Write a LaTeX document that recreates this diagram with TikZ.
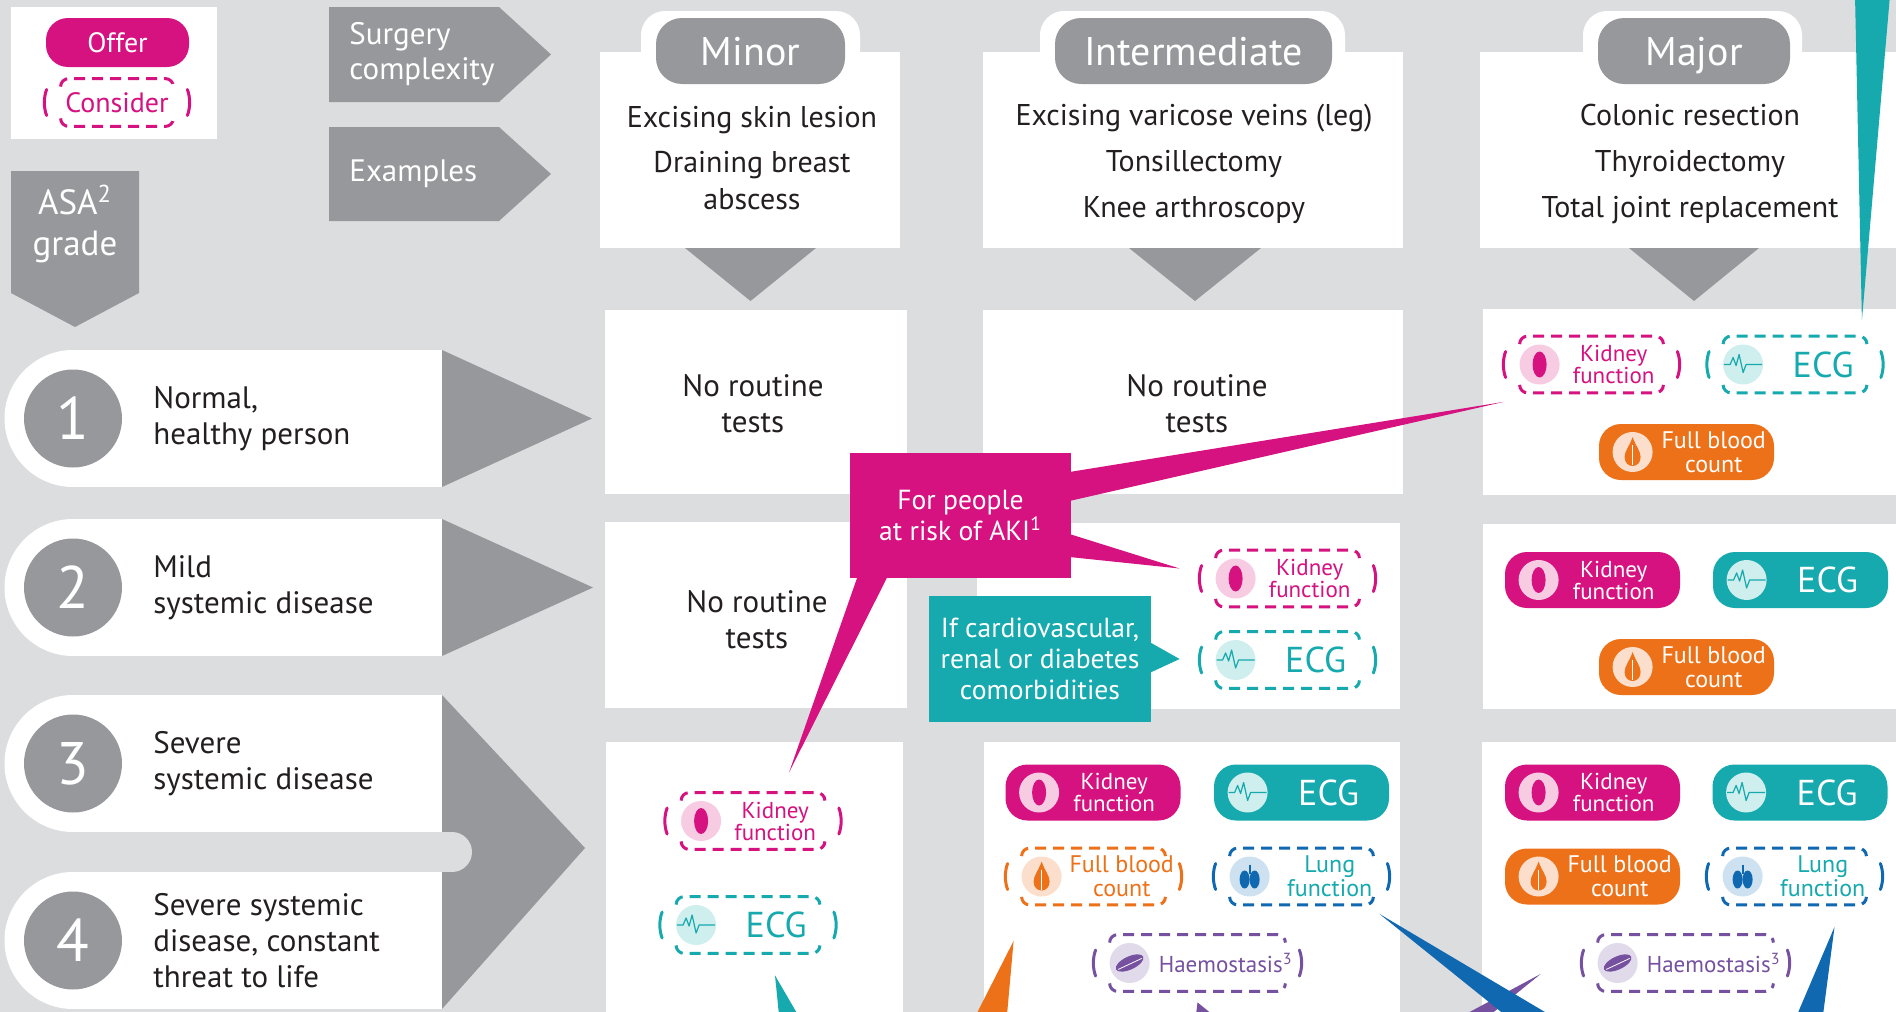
\documentclass[tikz,border=0pt]{standalone}
\usepackage{fontspec}
\setmainfont{PT Sans}
\usetikzlibrary{calc}

\definecolor{bggray}{HTML}{DCDDDF}
\definecolor{dgray}{HTML}{97989C}
\definecolor{ink}{HTML}{231F20}
\definecolor{cmag}{HTML}{D5127F}
\definecolor{cmagl}{HTML}{F7CCE3}
\definecolor{cteal}{HTML}{16A9AD}
\definecolor{ctealb}{HTML}{CFEEEE}
\definecolor{corange}{HTML}{EC7118}
\definecolor{corangel}{HTML}{FBDECB}
\definecolor{cblue}{HTML}{1068B1}
\definecolor{cbluel}{HTML}{CDE1F1}
\definecolor{cpurple}{HTML}{7551A0}
\definecolor{cpurplel}{HTML}{E1DAEB}

\newcommand\fsz[2]{\fontsize{#1}{#2}\selectfont}

\tikzset{
  offer/.style={fill=#1, rounded corners=11pt, minimum width=87.5pt, minimum height=28pt, inner sep=0pt},
  consider/.style={minimum width=87.5pt, minimum height=28pt, inner sep=0pt},
  icon/.style={circle, fill=#1, minimum size=20pt, inner sep=0pt},
  pilltxt/.style={align=center, font=\fsz{11.5}{11}},
  big/.style={pilltxt/.append style={font=\fsz{18}{18}}},
  blood/.style={pilltxt/.append style={font=\fsz{12}{12}}},
  kid/.style={pilltxt/.append style={xshift=-3pt}},
  wide/.style={consider/.append style={minimum width=103.5pt}},
  dashframe/.style={line width=1.5pt, dash pattern=on 5.5pt off 3.5pt, rounded corners=4pt},
  brk/.style={line width=1.5pt, line cap=round},
  head/.style={fill=dgray, rounded corners=13pt, minimum height=33pt, text=white, font=\fsz{20}{22}, text height=14pt, text depth=0pt},
  ex/.style={align=center, text=ink, font=\fsz{15}{18.5}},
  num/.style={circle, fill=dgray, minimum size=49pt, inner sep=0pt, text=white, font=\fsz{30}{30}},
  grade/.style={anchor=west, align=left, inner sep=0pt, text=ink, font=\fsz{15.5}{18}},
  notest/.style={align=center, text=ink, font=\fsz{15.5}{18}},
  bubble/.style={fill=#1, text=white, align=center, font=\fsz{13.8}{15.5}, inner sep=0pt},
}

% icons, drawn round the origin of a scope
\newcommand\kidneyicon[1]{\fill[#1] (0,0) ellipse (7 and 13);}
\newcommand\ecgicon[1]{\draw[#1, line width=0.6pt, line join=round] (-19,0) -- (-13,0) -- (-10,-7) -- (-7,1) -- (-4,-10) -- (0,8) -- (3,0) -- (19,0);}
\newcommand\dropicon[1]{\fill[#1] (0,-15) .. controls (3,-6) and (8,-1) .. (8,5) .. controls (8,11) and (4,14) .. (0,14) .. controls (-4,14) and (-8,11) .. (-8,5) .. controls (-8,-1) and (-3,-6) .. (0,-15) -- cycle;
  \draw[white, line width=0.4pt] (0,-7) -- (0,13);}
\newcommand\lungicon[1]{\fill[#1] (-5,3) ellipse (5 and 9); \fill[#1] (5,3) ellipse (5 and 9);
  \draw[#1, line width=1pt] (0,-12) -- (0,-3);}
\newcommand\pillicon[1]{\fill[#1, rotate=25] (0,0) ellipse (15 and 6.5);
  \draw[white, line width=0.4pt, rotate=25] (-13,1) -- (13,1);}

% dashed frame with brackets
\newcommand\considerframe[2]{%
  \draw[dashframe, #2] ([shift={(16,8)}]#1.north west) -- ([shift={(16,0)}]#1.north west) -- ([shift={(-16,0)}]#1.north east) -- ([shift={(-16,8)}]#1.north east);
  \draw[dashframe, #2] ([shift={(16,-8)}]#1.south west) -- ([shift={(16,0)}]#1.south west) -- ([shift={(-16,0)}]#1.south east) -- ([shift={(-16,-8)}]#1.south east);
  \draw[brk, #2] ([shift={(2,-13)}]#1.west) .. controls ([shift={(-1,-5)}]#1.west) and ([shift={(-1,5)}]#1.west) .. ([shift={(2,13)}]#1.west);
  \draw[brk, #2] ([shift={(-2,-13)}]#1.east) .. controls ([shift={(1,-5)}]#1.east) and ([shift={(1,5)}]#1.east) .. ([shift={(-2,13)}]#1.east);
}

% [options]{name}{at}{colour}{light colour}{icon}{text}
\newcommand\offerpill[7][]{%
  \begin{scope}[#1]
  \node[offer=#4] (#2) at (#3) {};
  \node[icon=#5] (#2-i) at ([xshift=17pt]#2.west) {};
  \begin{scope}[shift={(#2-i.center)}]#6{#4}\end{scope}
  \node[pilltxt, text=white] (#2-t) at ($(#2-i.east)!0.5!(#2.east)$) {#7};
  \end{scope}
}
% [options]{name}{at}{colour}{light colour}{icon}{text colour}{text}
\newcommand\considerpill[8][]{%
  \begin{scope}[#1]
  \node[consider] (#2) at (#3) {};
  \node[icon=#5] (#2-i) at ([xshift=18pt]#2.west) {};
  \begin{scope}[shift={(#2-i.center)}]#6{#4}\end{scope}
  \node[pilltxt, text=#7] (#2-t) at ($(#2-i.east)!0.5!(#2.east)$) {#8};
  \considerframe{#2}{#4}
  \end{scope}
}

\begin{document}
\begin{tikzpicture}[x=0.5pt,y=-0.5pt,font=\fsz{11.5}{11}]
\useasboundingbox (0,0) rectangle (1896,1012);
\clip (0,0) rectangle (1896,1012);
\fill[bggray] (0,0) rectangle (1896,1012);

% key
\fill[white] (11,7) rectangle (217,139);
\node[offer=cmag, minimum width=71.5pt, minimum height=24.5pt, text=white, font=\fsz{14}{14}] (offer) at (117.5,42.5) {Offer};
\node[consider, minimum width=72pt, minimum height=23.5pt, text=cmag, font=\fsz{14}{14}] (consider) at (117,102.5) {Consider};
\considerframe{consider}{cmag}

% row and column titles
\fill[dgray] (329,7) -- (499,7) -- (551,54.5) -- (499,102) -- (329,102) -- cycle;
\node[anchor=west, align=left, inner sep=0pt, text=white, font=\fsz{15.5}{17.5}] (surgery) at (349,54.5) {Surgery\\complexity};
\fill[dgray] (329,127) -- (499,127) -- (551,174) -- (499,221) -- (329,221) -- cycle;
\node[anchor=west, inner sep=0pt, text=white, font=\fsz{15.5}{17.5}] (examples) at (349,174) {Examples};
\fill[dgray] (11,171) -- (139,171) -- (139,293) -- (75,327) -- (11,293) -- cycle;
\node[align=center, text=white, font=\fsz{17.5}{20.5}] (asa) at (75,224) {ASA\textsuperscript{2}\\grade};

% surgery columns
\fill[white] (600,52) rectangle (900,248);
\fill[white, rounded corners=12pt] (641,11) rectangle (860,110);
\node[head, minimum width=94.5pt] (minor) at (750.5,51) {Minor};
\node[ex] (minorex) at (752,158) {Excising skin lesion\\[4pt]Draining breast\\abscess};
\fill[dgray] (685,248) -- (816,248) -- (750.5,301) -- cycle;

\fill[white] (983,52) rectangle (1403,248);
\fill[white, rounded corners=12pt] (1040,11) rectangle (1345,110);
\node[head, minimum width=138.5pt] (inter) at (1193.5,51) {Intermediate};
\node[ex] (interex) at (1194,163.5) {Excising varicose veins (leg)\\[4.5pt]Tonsillectomy\\[4.5pt]Knee arthroscopy};
\fill[dgray] (1129,248) -- (1261,248) -- (1195,301) -- cycle;

\fill[white] (1480,52) rectangle (1900,248);
\fill[white, rounded corners=12pt] (1583,11) rectangle (1802,110);
\node[head, minimum width=96pt] (major) at (1694,51) {Major};
\node[ex] (majorex) at (1690,163.5) {Colonic resection\\[4.5pt]Thyroidectomy\\[4.5pt]Total joint replacement};
\fill[dgray] (1629,248) -- (1759,248) -- (1694,301) -- cycle;

% ASA grades
\fill[white] (73,418.5) circle (68.5); \fill[white] (73,350) rectangle (442,487);
\fill[dgray] (442,350) -- (592,418.5) -- (442,487) -- cycle;
\node[num] (g1) at (73,418.5) {1};
\node[grade] (asa1) at (153,418.5) {Normal,\\healthy person};

\fill[white] (73,587.5) circle (68.5); \fill[white] (73,519) rectangle (442,656);
\fill[dgray] (442,519) -- (593,587.5) -- (442,656) -- cycle;
\node[num] (g2) at (73,587.5) {2};
\node[grade] (asa2) at (153,587.5) {Mild\\systemic disease};

\fill[white] (73,763.5) circle (68.5); \fill[white] (73,695) rectangle (442,832);
\fill[white] (73,940.5) circle (68.5); \fill[white] (73,872) rectangle (442,1009);
\fill[dgray] (442,695) -- (585,848) -- (442,1009) -- cycle;
\fill[bggray] (430,832) rectangle (452,872); \fill[bggray] (452,852) circle (20);
\node[num] (g3) at (73,763.5) {3};
\node[grade] (asa3) at (153,763.5) {Severe\\systemic disease};
\node[num] (g4) at (73,940.5) {4};
\node[grade] (asa4) at (153,940.5) {Severe systemic\\disease, constant\\threat to life};

% cells
\fill[white] (605,310) rectangle (907,494);
\fill[white] (983,310) rectangle (1403,494);
\fill[white] (1483,309) rectangle (1900,495);
\fill[white] (605,522) rectangle (907,708);
\fill[white] (977,523) rectangle (1400,709);
\fill[white] (1483,524) rectangle (1900,709);
\fill[white] (606,742) rectangle (903,1020);
\fill[white] (984,742) rectangle (1400,1020);
\fill[white] (1482,742) rectangle (1900,1020);

\node[notest] (none1) at (753,404) {No routine\\tests};
\node[notest] (none2) at (1197,404) {No routine\\tests};
\node[notest] (none3) at (757,620) {No routine\\tests};

% tests
\considerpill[kid]{kmaj1}{1591.5,364.5}{cmag}{cmagl}{\kidneyicon}{cmag}{Kidney\\function}
\considerpill[big]{emaj1}{1795,364.5}{cteal}{ctealb}{\ecgicon}{cteal}{ECG}
\offerpill[blood]{fmaj1}{1686.5,452}{corange}{corangel}{\dropicon}{Full blood\\count}

\considerpill[kid]{kint2}{1287.5,578.5}{cmag}{cmagl}{\kidneyicon}{cmag}{Kidney\\function}
\considerpill[big]{eint2}{1287.5,660}{cteal}{ctealb}{\ecgicon}{cteal}{ECG}
\offerpill[kid]{kmaj2}{1592.5,580}{cmag}{cmagl}{\kidneyicon}{Kidney\\function}
\offerpill[big]{emaj2}{1800.5,580}{cteal}{ctealb}{\ecgicon}{ECG}
\offerpill[blood]{fmaj2}{1686.5,667}{corange}{corangel}{\dropicon}{Full blood\\count}

\considerpill[kid]{kmin3}{753,821}{cmag}{cmagl}{\kidneyicon}{cmag}{Kidney\\function}
\considerpill[big]{emin3}{748,925}{cteal}{ctealb}{\ecgicon}{cteal}{ECG}

\offerpill[kid]{kint3}{1093,792.5}{cmag}{cmagl}{\kidneyicon}{Kidney\\function}
\offerpill[big]{eint3}{1301.5,792.5}{cteal}{ctealb}{\ecgicon}{ECG}
\considerpill[blood]{fint3}{1093.5,876.5}{corange}{corangel}{\dropicon}{corange}{Full blood\\count}
\considerpill[blood]{lint3}{1301.5,876.5}{cblue}{cbluel}{\lungicon}{cteal}{Lung\\function}
\considerpill[wide]{hint3}{1197.5,963}{cpurple}{cpurplel}{\pillicon}{cpurple}{Haemostasis\textsuperscript{3}}

\offerpill[kid]{kmaj3}{1592.5,792.5}{cmag}{cmagl}{\kidneyicon}{Kidney\\function}
\offerpill[big]{emaj3}{1800,792.5}{cteal}{ctealb}{\ecgicon}{ECG}
\offerpill[blood]{fmaj3}{1592.5,876.5}{corange}{corangel}{\dropicon}{Full blood\\count}
\considerpill[blood]{lmaj3}{1794.5,876.5}{cblue}{cbluel}{\lungicon}{cteal}{Lung\\function}
\considerpill[wide]{hmaj3}{1685.5,963}{cpurple}{cpurplel}{\pillicon}{cpurple}{Haemostasis\textsuperscript{3}}

% notes
\node[bubble=cmag, minimum width=110.5pt, minimum height=62.5pt] (aki) at (960.5,515.5) {For people\\at risk of AKI\textsuperscript{1}};
\fill[cmag] ($(aki.east)+(-2,-43.5)$) -- ($(kmaj1.south west)+(0,9)$) -- ($(aki.east)+(-2,-14.5)$) -- cycle;
\fill[cmag] ($(aki.east)+(-2,18.5)$) -- ($(kint2.west)+(-20,-10)$) -- ($(aki.east)+(-2,41.5)$) -- cycle;
\fill[cmag] ($(aki.south west)+(8,-2)$) -- ($(kmin3.north)+(36,-20)$) -- ($(aki.south west)+(38,-2)$) -- cycle;

\node[bubble=cteal, minimum width=111pt, minimum height=63pt] (cvd) at (1040,659) {If cardiovascular,\\renal or diabetes\\comorbidities};
\fill[cteal] ($(cvd.east)+(-2,-17)$) -- ($(eint2.west)+(-20,-1)$) -- ($(cvd.east)+(-2,14)$) -- cycle;

% pointers from outside the picture
\fill[cteal] (1855,-5) -- ($(emaj1.north east)+(-21,-16)$) -- (1890,-5) -- cycle;
\fill[cteal] ($(emin3.south)+(27,22)$) -- (798,1015) -- (779,1015) -- cycle;
\fill[corange] ($(fint3.south west)+(8,36)$) -- (1007,1015) -- (976,1015) -- cycle;
\fill[cpurple] ($(hint3.south)+(0,11)$) -- (1213,1015) -- (1196,1015) -- cycle;
\fill[cpurple] ($(hmaj3.west)+(-41,11)$) -- (1490,1015) -- (1464,1015) -- cycle;
\fill[cblue] ($(lint3.south east)+(-10,9)$) -- (1550,1015) -- (1505,1015) -- cycle;
\fill[cblue] ($(lmaj3.south)+(40,22)$) -- (1823,1015) -- (1797,1015) -- cycle;
\end{tikzpicture}
\end{document}
